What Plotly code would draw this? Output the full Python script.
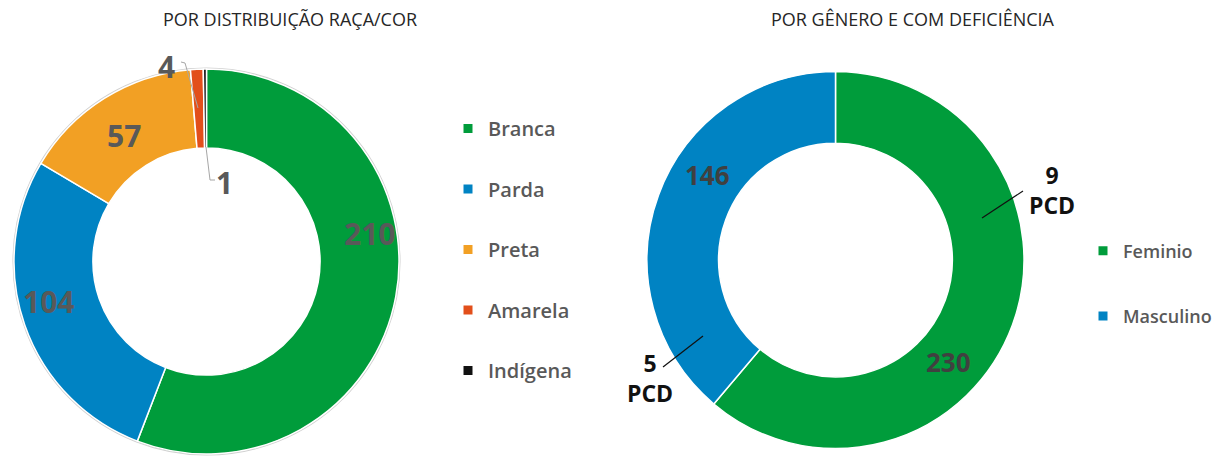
import plotly.graph_objects as go

OX, OY = 8, 8  # page body margin offset
W, H = 1223 - OX, 458 - OY

# ---- data ----
raca_labels = ["Branca", "Parda", "Preta", "Amarela", "Indígena"]
raca_values = [210, 104, 57, 4, 1]
raca_colors = ["#009c3b", "#0083c3", "#f2a024", "#e24f1b", "#111111"]

genero_labels = ["Feminio", "Masculino"]
genero_values = [230, 146]
genero_pcd = [9, 5]
genero_colors = ["#009c3b", "#0083c3"]

titles = ["POR DISTRIBUIÇÃO RAÇA/COR", "POR GÊNERO E COM DEFICIÊNCIA"]

FONT = "Open Sans"


def px(x, y):
    return (x - OX) / W, (H - (y - OY)) / H


def dom(cx, cy, r):
    x0, y0 = px(cx - r, cy + r)
    x1, y1 = px(cx + r, cy - r)
    return dict(x=[x0, x1], y=[y0, y1])


LC, LR = (206.5, 261.5), 192.5
RC, RR = (835.5, 260), 188.5

fig = go.Figure()

fig.add_trace(go.Pie(
    labels=raca_labels, values=raca_values, sort=False, direction="clockwise",
    rotation=0, hole=0.59, domain=dom(LC[0], LC[1], LR),
    marker=dict(colors=raca_colors, line=dict(color="white", width=1.5)),
    textinfo="none", showlegend=False, hoverinfo="label+value",
))
fig.add_trace(go.Pie(
    labels=genero_labels, values=genero_values, sort=False, direction="clockwise",
    rotation=0, hole=0.62, domain=dom(RC[0], RC[1], RR),
    marker=dict(colors=genero_colors, line=dict(color="white", width=1.5)),
    textinfo="none", showlegend=False, hoverinfo="label+value",
))

# legend entries
for lab, col in zip(raca_labels, raca_colors):
    fig.add_trace(go.Scatter(x=[None], y=[None], mode="markers", name=lab,
                             marker=dict(symbol="square", size=9, color=col),
                             legendgroup=lab, legend="legend"))
for lab, col in zip(genero_labels, genero_colors):
    fig.add_trace(go.Scatter(x=[None], y=[None], mode="markers", name=lab,
                             marker=dict(symbol="square", size=9, color=col),
                             legendgroup=lab, legend="legend2"))

ann = []
# titles
for t, cx in zip(titles, [290, 913]):
    x, y = px(cx, 19)
    ann.append(dict(text=t, x=x, y=y, xanchor="center", yanchor="middle",
                    font=dict(family=FONT, size=18, color="#262626")))

# left labels
left_pos = [(369, 233), (48, 301), (124, 135), (166, 66), (225, 183)]
for v, (cx, cy) in zip(raca_values, left_pos):
    x, y = px(cx, cy)
    ann.append(dict(text=f"<b>{v}</b>", x=x, y=y, xanchor="center", yanchor="middle",
                    font=dict(family=FONT, size=30, color="#595959")))

# right labels
right_pos = [(948, 362), (707, 175)]
for v, (cx, cy) in zip(genero_values, right_pos):
    x, y = px(cx, cy)
    ann.append(dict(text=f"<b>{v}</b>", x=x, y=y, xanchor="center", yanchor="middle",
                    font=dict(family=FONT, size=26, color="#404040")))

pcd_pos = [(1051.5, 190), (650, 377.5)]
for v, (cx, cy) in zip(genero_pcd, pcd_pos):
    x, y = px(cx, cy)
    ann.append(dict(text=f"<b>{v}</b><br><b>PCD</b>", x=x, y=y, xanchor="center",
                    yanchor="middle", align="center",
                    font=dict(family=FONT, size=23, color="#111111")))

for a in ann:
    a.update(xref="paper", yref="paper", showarrow=False)


def path(points):
    s = ""
    for i, (x, y) in enumerate(points):
        xx, yy = px(x, y)
        s += ("M" if i == 0 else "L") + f"{xx},{yy} "
    return s


cx0, cy0 = px(LC[0] - LR - 0.8, LC[1] + LR + 0.8)
cx1, cy1 = px(LC[0] + LR + 0.8, LC[1] - LR - 0.8)
shapes = [
    dict(type="circle", x0=cx0, y0=cy0, x1=cx1, y1=cy1, layer="below",
         line=dict(color="#d0d0d0", width=1.5), fillcolor="rgba(0,0,0,0)"),
    dict(type="path", path=path([(181, 62), (185, 63), (198, 108)]),
         line=dict(color="#a6a6a6", width=1)),
    dict(type="path", path=path([(206, 147), (210, 180), (215, 180)]),
         line=dict(color="#a6a6a6", width=1)),
    dict(type="path", path=path([(982, 218), (1023, 191)]),
         line=dict(color="#111111", width=1.2)),
    dict(type="path", path=path([(663, 367), (703, 336)]),
         line=dict(color="#111111", width=1.2)),
]
for s in shapes:
    s.update(xref="paper", yref="paper")

lx, ly = px(448, 109)
rx, ry = px(1083, 232.5)
fig.update_layout(
    width=W, height=H, margin=dict(l=0, r=0, t=0, b=0),
    paper_bgcolor="white", plot_bgcolor="white",
    xaxis=dict(visible=False), yaxis=dict(visible=False),
    annotations=ann, shapes=shapes,
    legend=dict(x=lx, y=ly, xanchor="left", yanchor="top", traceorder="grouped",
                tracegroupgap=31.5, itemwidth=30,
                font=dict(family=FONT, size=20, color="#595959", weight=600),
                bgcolor="rgba(0,0,0,0)"),
    legend2=dict(x=rx, y=ry, xanchor="left", yanchor="top", traceorder="grouped",
                 tracegroupgap=39, itemwidth=30,
                 font=dict(family=FONT, size=18, color="#595959", weight=600),
                 bgcolor="rgba(0,0,0,0)"),
)

fig.write_html("out.html")
